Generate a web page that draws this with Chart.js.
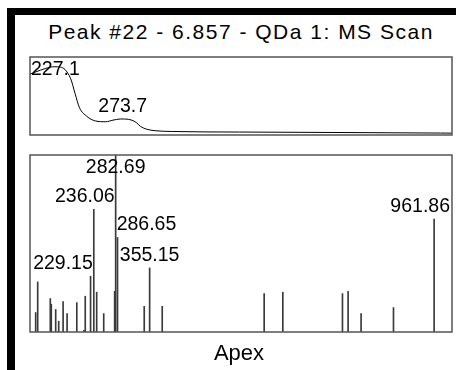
<!DOCTYPE html>
<html>
<head>
<meta charset="utf-8">
<script src="https://cdn.jsdelivr.net/npm/chart.js@4.4.1/dist/chart.umd.min.js"></script>
<style>
  html, body { margin: 0; padding: 0; background: #fff; }
  body { width: 456px; height: 370px; position: relative; overflow: hidden; font-family: "Liberation Sans", Arial, sans-serif; }
  #frame { position: absolute; left: 7px; top: 8px; width: 470px; height: 380px; border-top: 7px solid #000; border-left: 8px solid #000; }
  canvas { position: absolute; left: 0; top: 0; }
  #title { position: absolute; left: 0; width: 482px; top: 21px; text-align: center; font-size: 21px; line-height: 21px; letter-spacing: 1.5px; color: #000; white-space: nowrap; }
  #apex { position: absolute; left: 0; width: 478px; top: 342px; text-align: center; font-size: 22px; line-height: 22px; color: #000; }
</style>
</head>
<body>
<div id="frame"></div>
<div id="title">Peak #22 - 6.857 - QDa 1: MS Scan</div>
<canvas id="uv" width="456" height="370"></canvas>
<canvas id="ms" width="456" height="370"></canvas>
<div id="apex">Apex</div>
<script>
// top panel: spectrum trace
const uvWavelengths = [210, 217, 224, 227, 231, 234, 238, 241, 244, 249, 255, 262, 267, 272, 275, 280, 283, 286, 290, 296, 308, 354, 423, 492, 500];
const uvAbsorbance = [0.78, 0.83, 0.87, 0.875, 0.87, 0.84, 0.72, 0.53, 0.35, 0.24, 0.18, 0.17, 0.19, 0.205, 0.205, 0.19, 0.16, 0.11, 0.075, 0.055, 0.045, 0.038, 0.032, 0.025, 0.024];
const uvPeakWavelengths = [227.1, 273.7];
const uvPeakLabels = ['227.1', '273.7'];

// bottom panel: mass spectrum sticks
const msMz = [112.1, 116.4, 143.3, 145.4, 154.8, 161.2, 170.6, 179.1, 199.8, 215.0, 217.8, 229.15, 236.06, 242.2, 257.2, 280.5, 282.69, 286.65, 343.6, 355.15, 382.0, 599.4, 639.2, 766.4, 778.4, 806.1, 875.2, 961.86];
const msIntensity = [11.0, 28.3, 18.9, 15.7, 12.7, 6.1, 17.2, 10.4, 16.6, 1.0, 20.2, 31.5, 69.3, 22.5, 10.4, 23.0, 100, 53.4, 14.5, 36.2, 14.5, 21.7, 22.5, 21.7, 23.0, 10.4, 13.8, 63.8];
const msPeakLabels = ['229.15', '236.06', '282.69', '286.65', '355.15', '961.86'];

const LABEL_FONT = '19.5px "Liberation Sans", Arial, sans-serif';

function valueAt(xs, ys, x) {
  for (let i = 0; i < xs.length - 1; i++) {
    if (x >= xs[i] && x <= xs[i + 1]) {
      const t = (x - xs[i]) / (xs[i + 1] - xs[i]);
      return ys[i] + t * (ys[i + 1] - ys[i]);
    }
  }
  return ys[ys.length - 1];
}

// draws the panel box and the peak labels
const panelPlugin = {
  id: 'panel',
  afterDatasetsDraw(chart, args, opts) {
    const { ctx, chartArea: a, scales } = chart;
    ctx.save();
    ctx.strokeStyle = '#555';
    ctx.lineWidth = 1.5;
    ctx.strokeRect(a.left, a.top, a.right - a.left, a.bottom - a.top);

    ctx.font = LABEL_FONT;
    ctx.fillStyle = '#000';
    ctx.textAlign = 'left';
    ctx.textBaseline = 'alphabetic';
    const capH = 14;

    opts.peaks.forEach(p => {
      const w = ctx.measureText(p.text).width;
      const px = scales.x.getPixelForValue(p.x);
      const py = scales.y.getPixelForValue(p.y);
      let base = py - 7;
      if (base - capH < a.top + 4) base = a.top + 4 + capH;
      let left = px - w / 2;
      let right = px + w / 2;

      if (opts.sticks) {
        // keep the label clear of taller neighbouring sticks
        let nearL = null, nearR = null;
        opts.sticks.forEach(s => {
          const sx = scales.x.getPixelForValue(s.x);
          const sy = scales.y.getPixelForValue(s.y);
          if (Math.abs(sx - px) < 0.5 || sy >= base) return;
          if (sx > px && sx < right && (nearR === null || sx < nearR)) nearR = sx;
          if (sx < px && sx > left && (nearL === null || sx > nearL)) nearL = sx;
        });
        if (nearR !== null) { right = nearR - 1; left = right - w; }
        else if (nearL !== null) { left = nearL + 1; right = left + w; }
      }
      if (left < a.left + 1) { left = a.left + 1; }
      if (left + w > a.right - 2) { left = a.right - 2 - w; }
      ctx.fillText(p.text, left, base);
    });
    ctx.restore();
  }
};

new Chart(document.getElementById('uv'), {
  type: 'line',
  data: {
    datasets: [{
      data: uvWavelengths.map((x, i) => ({ x, y: uvAbsorbance[i] })),
      borderColor: '#000',
      borderWidth: 1,
      pointRadius: 0,
      cubicInterpolationMode: 'monotone',
      fill: false,
    }],
  },
  options: {
    responsive: false,
    animation: false,
    devicePixelRatio: 1,
    layout: { padding: { left: 30, top: 57, right: 4, bottom: 235 } },
    scales: {
      x: { type: 'linear', min: 210, max: 500, display: false },
      y: { min: 0, max: 1, display: false },
    },
    plugins: {
      legend: { display: false },
      tooltip: { enabled: false },
      panel: {
        peaks: uvPeakWavelengths.map((x, i) => ({ x, y: valueAt(uvWavelengths, uvAbsorbance, x), text: uvPeakLabels[i] })),
      },
    },
  },
  plugins: [panelPlugin],
});

new Chart(document.getElementById('ms'), {
  type: 'bar',
  data: {
    datasets: [{
      data: msMz.map((x, i) => ({ x, y: msIntensity[i] })),
      backgroundColor: '#3a3a3a',
      barThickness: 1,
    }],
  },
  options: {
    responsive: false,
    animation: false,
    devicePixelRatio: 1,
    layout: { padding: { left: 30, top: 155, right: 4, bottom: 38 } },
    scales: {
      x: { type: 'linear', min: 100, max: 1000, offset: false, display: false },
      y: { min: 0, max: 100, display: false },
    },
    plugins: {
      legend: { display: false },
      tooltip: { enabled: false },
      panel: {
        peaks: msPeakLabels.map(t => {
          const x = parseFloat(t);
          return { x, y: msIntensity[msMz.indexOf(x)], text: t };
        }),
        sticks: msMz.map((x, i) => ({ x, y: msIntensity[i] })),
      },
    },
  },
  plugins: [panelPlugin],
});
</script>
</body>
</html>
